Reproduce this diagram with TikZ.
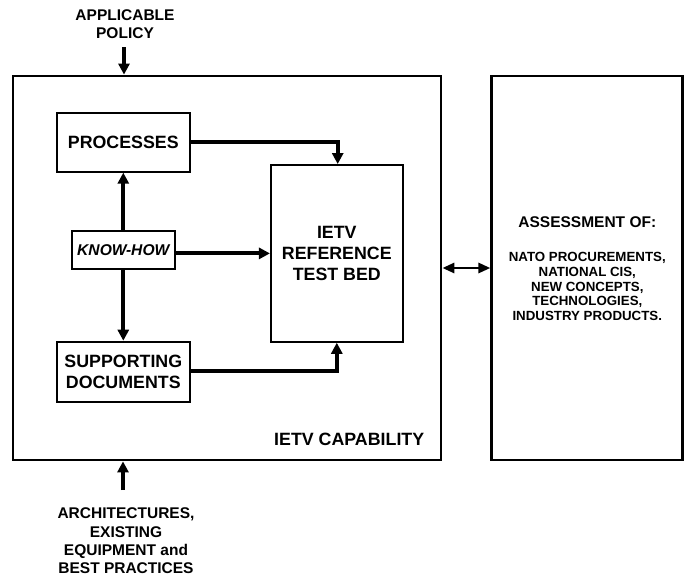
\documentclass[tikz,border=0pt]{standalone}
\usepackage{fontspec}
\setmainfont{Liberation Sans}
\usetikzlibrary{arrows.meta,calc}

\begin{document}
\begin{tikzpicture}[x=1pt,y=-1pt,
  every node/.style={font=\bfseries, inner sep=0pt, align=center},
  outerbox/.style={draw=black, line width=2.8pt},
  innerbox/.style={draw=black, line width=2pt},
  flow/.style={line width=4pt, -{Triangle[length=11pt,width=11pt]}},
  link/.style={line width=2.8pt, {Triangle[length=12pt,width=10pt]}-{Triangle[length=12pt,width=10pt]}},
  boxtext/.style={font=\bfseries\fontsize{17.8}{21}\selectfont},
  sidetext/.style={font=\bfseries\fontsize{15.5}{18.5}\selectfont}
]
% canvas
\fill[white] (0,0) rectangle (688,576);
\useasboundingbox (0,0) rectangle (688,576);

% main frames
\node[outerbox, minimum width=428pt, minimum height=384pt] (cap) at (227,268) {};
\node[outerbox, minimum width=191pt, minimum height=384pt] (assess) at (587.3,268) {};

% inner blocks
\node[innerbox, boxtext, minimum width=133pt, minimum height=58.7pt] (proc) at (123.3,142.3) {PROCESSES};
\node[innerbox, minimum width=103pt, minimum height=38pt,
      font=\bfseries\itshape\fontsize{15.6}{18}\selectfont] (know) at (123.3,250) {KNOW-HOW};
\node[innerbox, boxtext, minimum width=133pt, minimum height=60pt] (supp) at (123.3,371.7) {SUPPORTING\\DOCUMENTS};
\node[innerbox, boxtext, minimum width=131.7pt, minimum height=176.7pt] (ietv) at (336.8,253.4) {IETV\\REFERENCE\\TEST BED};

% labels
\node[boxtext, anchor=west] (capl) at (274,439) {IETV CAPABILITY};
\node[sidetext] (policy) at (125,24) {APPLICABLE\\POLICY};
\node[sidetext, font=\bfseries\fontsize{15.5}{18.3}\selectfont] (arch) at (126,541)
  {ARCHITECTURES,\\EXISTING\\EQUIPMENT and\\BEST PRACTICES};
\node[sidetext] (ahead) at (587.3,222) {ASSESSMENT OF:};
\node[font=\bfseries\fontsize{13.3}{14.7}\selectfont] (alist) at (587.3,286.5)
  {NATO PROCUREMENTS,\\NATIONAL CIS,\\NEW CONCEPTS,\\TECHNOLOGIES,\\INDUSTRY PRODUCTS.};

% inputs from outside
\coordinate (inT) at (124,47);
\coordinate (inB) at (123,490);
\draw[flow] (inT) -- (inT |- cap.north);
\draw[flow] (inB) -- (inB |- cap.south);

% internal flows
\draw[flow] (know.north) -- (proc.south);
\draw[flow] (know.south) -- (supp.north);
\draw[flow] (know.east |- ietv.west) -- (ietv.west);
\draw[flow] (proc.east) -| (337.7,0 |- ietv.north);
\draw[flow] (supp.east |- 0,371) -| (336.8,0 |- ietv.south);

% exchange with assessment
\draw[link] (cap.east |- 0,268) -- (assess.west |- 0,268);
\end{tikzpicture}
\end{document}
